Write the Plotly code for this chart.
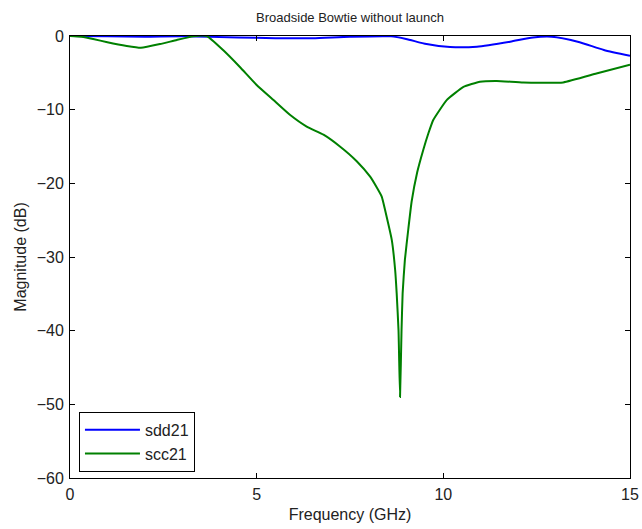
import plotly.graph_objects as go

# sdd21 (blue)
sdd_f = [0, 1, 2, 3, 4.5, 5.5, 6.5, 7.5, 8.6, 9.0, 9.55, 10.18, 10.9, 11.79, 12.4, 12.9, 13.6, 14.3, 15]
sdd_db = [0, -0.05, -0.1, -0.05, -0.2, -0.3, -0.3, -0.1, -0.05, -0.4, -1.1, -1.5, -1.45, -0.77, -0.2, -0.1, -0.77, -1.9, -2.7]

# scc21 (green)
scc_f = [0, 0.3, 0.62, 1.0, 1.52, 1.9, 2.41, 2.86, 3.3, 3.66, 4.1, 4.55, 5.0, 5.45, 5.89, 6.34, 6.79,
         7.23, 7.68, 8.04, 8.21, 8.35, 8.48, 8.62, 8.71, 8.75, 8.80, 8.84, 8.88, 8.91, 8.97, 9.06, 9.15,
         9.30, 9.46, 9.6, 9.73, 10.09, 10.54, 10.98, 11.43, 12.14, 13.21, 14.1, 15]
scc_db = [0, -0.1, -0.4, -0.85, -1.36, -1.6, -1.1, -0.54, -0.05, 0, -1.9, -4.2, -6.65, -8.7, -10.7, -12.3, -13.4,
          -15.0, -17.0, -19.1, -20.5, -21.8, -24.5, -27.7, -31.8, -34.9, -40.0, -49.0, -40.0, -34.9, -30.4, -26.3, -22.5,
          -18.5, -15.5, -13.2, -11.4, -8.7, -6.9, -6.2, -6.1, -6.3, -6.3, -5.1, -3.9]

fig = go.Figure()
fig.add_trace(go.Scatter(x=sdd_f, y=sdd_db, mode="lines", name="sdd21",
                         line=dict(color="#0000ff", width=2, shape="spline", smoothing=0.6)))
fig.add_trace(go.Scatter(x=scc_f, y=scc_db, mode="lines", name="scc21",
                         line=dict(color="#008000", width=2, shape="spline", smoothing=0.4)))

axis_common = dict(showline=True, linecolor="black", linewidth=1, mirror="ticks",
                   ticks="inside", ticklen=5, tickcolor="black", showgrid=False, zeroline=False,
                   automargin=False,
                   tickfont=dict(family="Liberation Sans, Arial", size=16, color="#222"))

fig.update_layout(
    width=642, height=529,
    margin=dict(l=70, r=12, t=36, b=51),
    paper_bgcolor="white", plot_bgcolor="white",
    font=dict(family="Liberation Sans, Arial", size=16, color="#222"),
    title=dict(text="Broadside Bowtie without launch", x=(70 + 560 / 2) / 642, xanchor="center",
               y=1 - 17 / 529, yanchor="middle", font=dict(size=13, color="#222")),
    xaxis=dict(range=[0, 15], tickvals=[0, 5, 10, 15], ticklabelstandoff=2,
               title=dict(text="Frequency (GHz)", standoff=6, font=dict(size=16)), **axis_common),
    yaxis=dict(range=[-60, 0], tickvals=[0, -10, -20, -30, -40, -50, -60], ticklabelstandoff=2,
               title=dict(text="Magnitude (dB)", standoff=6, font=dict(size=16)), **axis_common),
    legend=dict(x=0.016, y=0.014, xanchor="left", yanchor="bottom", bgcolor="white",
                bordercolor="black", borderwidth=1, font=dict(size=16, color="#222"),
                tracegroupgap=0, itemwidth=55),
    showlegend=True,
)

fig.write_html("out.html")
